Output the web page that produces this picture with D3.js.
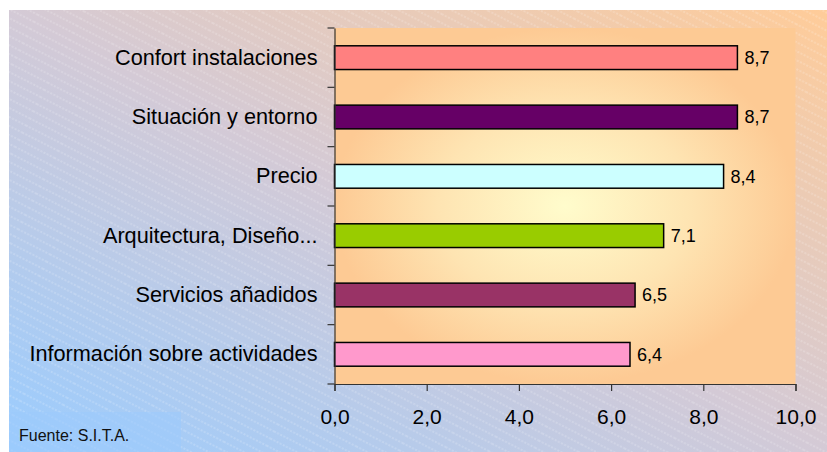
<!DOCTYPE html>
<html><head><meta charset="utf-8">
<script src="https://cdn.jsdelivr.net/npm/d3@7"></script>
<style>html,body{margin:0;padding:0;background:#fff;}svg{display:block;font-family:"Liberation Sans",Arial,sans-serif;}</style>
</head><body>
<script>
const categories = ["Confort instalaciones","Situación y entorno","Precio","Arquitectura, Diseño...","Servicios añadidos","Información sobre actividades"];
const values = [8.74, 8.74, 8.44, 7.14, 6.52, 6.41];
const barColors = ["#ff8080","#660066","#ccffff","#99cc00","#993366","#ff99cc"];
const xTicks = [0,2,4,6,8,10];
const sourceNote = "Fuente: S.I.T.A.";

const W = 827, H = 452;
const plot = {x0:334.5, x1:795.5, y0:28, y1:384};
const loc = d3.formatLocale({decimal:",", thousands:".", grouping:[3], currency:["","€"]});
const fmt = loc.format(".1f");

const svg = d3.select("body").append("svg").attr("width",W).attr("height",H);
const defs = svg.append("defs");
const bg = defs.append("linearGradient").attr("id","bg").attr("x1",0).attr("y1",1).attr("x2",1).attr("y2",0);
bg.append("stop").attr("offset",0).attr("stop-color","#99ccff");
bg.append("stop").attr("offset",0.5).attr("stop-color","#d4cad6");
bg.append("stop").attr("offset",1).attr("stop-color","#ffcc99");
const rg = defs.append("radialGradient").attr("id","pg").attr("cx",0.5).attr("cy",0.5).attr("r",0.5);
rg.append("stop").attr("offset",0).attr("stop-color","#fffccc");
rg.append("stop").attr("offset",0.55).attr("stop-color","#fee4b2");
rg.append("stop").attr("offset",1).attr("stop-color","#fdca94");
const pat = defs.append("pattern").attr("id","hatch").attr("patternUnits","userSpaceOnUse")
  .attr("width",40).attr("height",8).attr("patternTransform","rotate(27)");
pat.append("line").attr("x1",0).attr("y1",4).attr("x2",40).attr("y2",4)
  .attr("stroke","#fff").attr("stroke-opacity",0.45).attr("stroke-width",0.8).attr("stroke-dasharray","2,1.5");

svg.append("rect").attr("x",9).attr("y",10).attr("width",W-9).attr("height",H-10).attr("fill","url(#bg)");
svg.append("rect").attr("x",9).attr("y",10).attr("width",W-9).attr("height",H-10).attr("fill","url(#hatch)");
svg.append("rect").attr("x",9).attr("y",412).attr("width",172).attr("height",H-412).attr("fill","#9ccafb").attr("opacity",0.6);

const x = d3.scaleLinear().domain([0,10]).range([plot.x0,plot.x1]);
const y = d3.scaleBand().domain(categories).range([plot.y0,plot.y1]).paddingInner(0.6).paddingOuter(0.3);

svg.append("rect").attr("x",plot.x0).attr("y",plot.y0).attr("width",plot.x1-plot.x0).attr("height",plot.y1-plot.y0).attr("fill","url(#pg)");

svg.selectAll("rect.bar").data(categories).enter().append("rect").attr("class","bar")
  .attr("x",x(0)).attr("y",d=>y(d)).attr("width",(d,i)=>x(values[i])-x(0)).attr("height",y.bandwidth())
  .attr("fill",(d,i)=>barColors[i]).attr("stroke","#000").attr("stroke-width",1.5);

svg.selectAll("text.val").data(categories).enter().append("text").attr("class","val")
  .attr("x",(d,i)=>x(values[i])+7).attr("y",d=>y(d)+y.bandwidth()/2).attr("dy","0.36em")
  .attr("font-size",18).attr("fill","#000").text((d,i)=>fmt(values[i]));

// x axis
const xa = svg.append("g").attr("transform",`translate(0,${plot.y1})`)
  .call(d3.axisBottom(x).tickValues(xTicks).tickSize(7).tickPadding(18).tickFormat(fmt));
xa.select(".domain").attr("stroke","#333").attr("stroke-width",1.2);
xa.selectAll(".tick line").attr("stroke","#333").attr("stroke-width",1.2);
xa.selectAll("text").attr("font-size",21).attr("fill","#000").attr("font-family","Liberation Sans, Arial, sans-serif");

// y axis
const ya = svg.append("g").attr("transform",`translate(${plot.x0},0)`)
  .call(d3.axisLeft(y).tickSize(0).tickPadding(17));
ya.select(".domain").attr("stroke","#333").attr("stroke-width",1.2);
ya.selectAll("text").attr("font-size",21.7).attr("fill","#000").attr("font-family","Liberation Sans, Arial, sans-serif");
const bounds = d3.range(categories.length+1).map(i=>plot.y0+i*(plot.y1-plot.y0)/categories.length);
ya.selectAll("line.bt").data(bounds).enter().append("line").attr("class","bt")
  .attr("x1",-7).attr("x2",0).attr("y1",d=>d).attr("y2",d=>d).attr("stroke","#333").attr("stroke-width",1.2);

svg.append("text").attr("x",19).attr("y",441).attr("font-size",16).attr("fill","#111").text(sourceNote);
</script>
</body></html>
